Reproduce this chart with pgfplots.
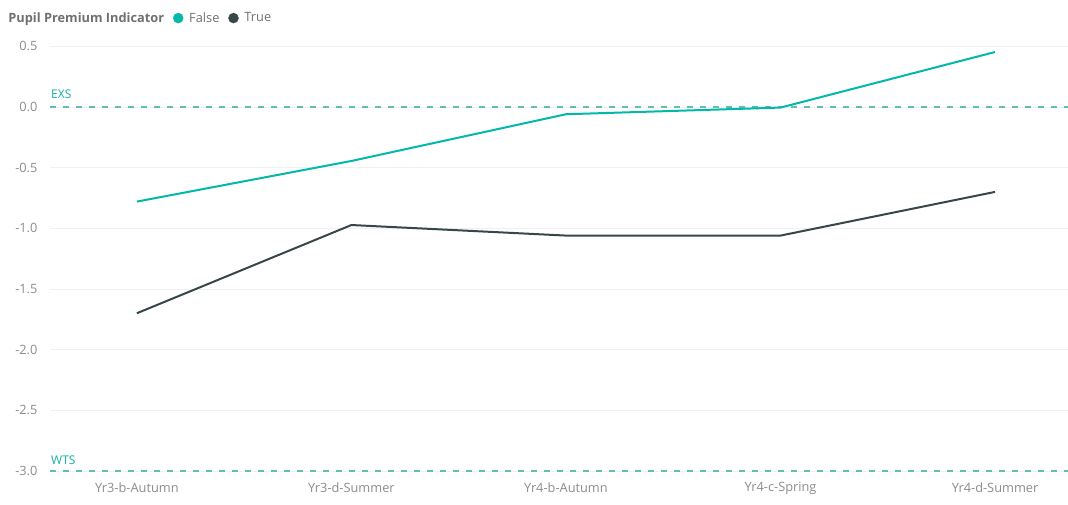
\documentclass[border=0pt]{standalone}
\usepackage{pgfplots}
\pgfplotsset{compat=1.18}
\usepackage{fontspec}
\setmainfont{Open Sans}

\definecolor{pbteal}{HTML}{01B8AA}
\definecolor{pbdark}{HTML}{374649}
\definecolor{refline}{HTML}{62BDB2}
\definecolor{ticktext}{HTML}{8C8C8C}
\definecolor{legtext}{HTML}{707070}
\definecolor{gridc}{HTML}{F0F0F0}

\begin{document}
\begin{tikzpicture}
  \begin{axis}[
    scale only axis,
    width=1018pt, height=438pt,
    xmin=-0.405, xmax=4.34,
    ymin=-3.058, ymax=0.552,
    axis line style={draw=none},
    tick style={draw=none},
    xtick={0,1,2,3,4},
    xticklabels={Yr3-b-Autumn,Yr3-d-Summer,Yr4-b-Autumn,Yr4-c-Spring,Yr4-d-Summer},
    ytick={-3,-2.5,-2,-1.5,-1,-0.5,0,0.5},
    /pgf/number format/fixed,
    /pgf/number format/fixed zerofill,
    /pgf/number format/precision=1,
    /pgf/number format/assume math mode=true,
    ticklabel style={font=\fontsize{12.8}{14}\selectfont, text=ticktext},
    yticklabel style={xshift=-9pt},
    xticklabel style={yshift=-1pt},
    ymajorgrids,
    grid style={gridc, line width=0.8pt},
    clip=false,
    legend style={
      at={(axis description cs:-0.047,1.050)}, anchor=west,
      draw=none, fill=none, inner sep=0pt,
      legend columns=-1,
      font=\fontsize{12.8}{14}\selectfont,
      text=legtext,
      /tikz/every even column/.append style={column sep=7pt},
      /tikz/every odd column/.append style={column sep=4pt},
    },
    legend cell align=left,
  ]
    % reference bands
    \addplot[refline, line width=1.8pt, dash pattern=on 6pt off 7pt, forget plot]
      coordinates {(-0.405,0) (4.34,0)};
    \addplot[refline, line width=1.8pt, dash pattern=on 6pt off 7pt, forget plot]
      coordinates {(-0.405,-3) (4.34,-3)};
    \node[anchor=south west, text=pbteal!85!gray, font=\fontsize{12}{13}\selectfont, inner sep=1pt]
      at (axis cs:-0.405,0.055) {EXS};
    \node[anchor=south west, text=pbteal!85!gray, font=\fontsize{12}{13}\selectfont, inner sep=1pt]
      at (axis cs:-0.405,-2.96) {WTS};

    % series: False
    \addplot[pbteal, line width=2pt, mark=none, forget plot] coordinates {
      (0,-0.78) (1,-0.445) (2,-0.06) (3,-0.005) (4,0.453)
    };
    % series: True
    \addplot[pbdark, line width=2pt, mark=none, forget plot] coordinates {
      (0,-1.70) (1,-0.973) (2,-1.06) (3,-1.06) (4,-0.70)
    };

    \addlegendimage{empty legend}
    \addlegendentry{\textbf{Pupil Premium Indicator}\hspace{1pt}}
    \addlegendimage{only marks, mark=*, mark size=5pt, pbteal}
    \addlegendentry{False}
    \addlegendimage{only marks, mark=*, mark size=5pt, pbdark}
    \addlegendentry{True}
  \end{axis}
  \pgfresetboundingbox
  \path[use as bounding box]
    ([shift={(-50pt,-26pt)}]current axis.south west) rectangle +(1068pt,504pt);
\end{tikzpicture}
\end{document}
